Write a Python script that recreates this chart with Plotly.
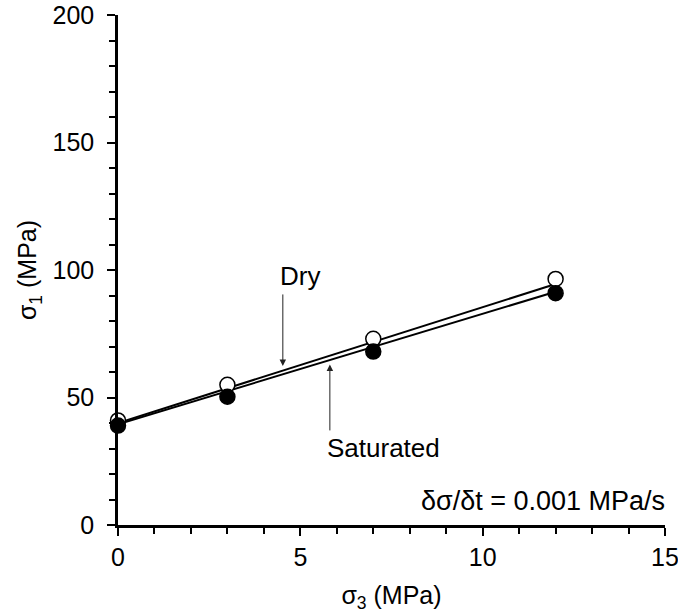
import plotly.graph_objects as go

# Data
sigma3 = [0, 3, 7, 12]
dry_sigma1 = [41, 55, 73, 96.5]
sat_sigma1 = [39, 50.3, 68, 90.9]

# Fitted lines (endpoints)
fit_x = [0, 12]
dry_fit = [40, 94.5]
sat_fit = [39.5, 91.5]

FONT = "Arial, Liberation Sans, sans-serif"

fig = go.Figure()
fig.add_trace(go.Scatter(x=fit_x, y=dry_fit, mode="lines",
                         line=dict(color="black", width=2), cliponaxis=False, showlegend=False))
fig.add_trace(go.Scatter(x=fit_x, y=sat_fit, mode="lines",
                         line=dict(color="black", width=2), cliponaxis=False, showlegend=False))
fig.add_trace(go.Scatter(x=sigma3, y=dry_sigma1, mode="markers",
                         marker=dict(size=15, color="white", line=dict(color="black", width=1.5)),
                         cliponaxis=False, showlegend=False, name="Dry"))
fig.add_trace(go.Scatter(x=sigma3, y=sat_sigma1, mode="markers",
                         marker=dict(size=15, color="black", line=dict(color="black", width=1.5)),
                         cliponaxis=False, showlegend=False, name="Saturated"))

arrow_common = dict(showarrow=True, arrowhead=2, arrowsize=1.3, arrowwidth=1,
                    arrowcolor="#222222", axref="x", ayref="y", text="")
fig.add_annotation(x=4.52, y=62.4, ax=4.52, ay=91, **arrow_common)
fig.add_annotation(x=5.81, y=62.9, ax=5.81, ay=36.5, **arrow_common)

fig.add_annotation(x=5.0, y=97.6, text="Dry", showarrow=False,
                   font=dict(family=FONT, size=26, color="black"))
fig.add_annotation(x=7.27, y=30.2, text="Saturated", showarrow=False,
                   font=dict(family=FONT, size=26, color="black"))
fig.add_annotation(x=1.003, xref="x domain", y=9.4, xanchor="right", text="δσ/δt = 0.001 MPa/s",
                   showarrow=False, font=dict(family=FONT, size=27, color="black"))

fig.update_layout(
    width=678, height=613,
    margin=dict(l=118, r=13, t=15, b=88),
    plot_bgcolor="white", paper_bgcolor="white",
    font=dict(family=FONT, size=25, color="black"),
    xaxis=dict(range=[0, 15], dtick=5, tick0=0, showline=True, linecolor="black", linewidth=2.5,
               ticks="outside", ticklen=8, tickwidth=2, tickcolor="black", showgrid=False,
               zeroline=False, ticklabelstandoff=0, automargin=False, ticklabeloverflow="allow",
               minor=dict(dtick=1, ticks="outside", ticklen=6, tickwidth=2, tickcolor="black", showgrid=False),
               title=dict(text="σ<sub>3</sub> (MPa)", font=dict(size=25), standoff=20)),
    yaxis=dict(range=[0, 200], dtick=50, tick0=0, showline=True, linecolor="black", linewidth=2.5,
               ticks="outside", ticklen=8, tickwidth=2, tickcolor="black", showgrid=False,
               zeroline=False, ticklabelstandoff=8, automargin=False, ticklabeloverflow="allow",
               minor=dict(dtick=10, ticks="outside", ticklen=6, tickwidth=2, tickcolor="black", showgrid=False),
               title=dict(text="σ<sub>1</sub> (MPa)", font=dict(size=25), standoff=9)),
)

fig.write_html("out.html", config={"displayModeBar": False},
               post_script="document.body.style.margin='0px';document.body.style.overflow='hidden';")
